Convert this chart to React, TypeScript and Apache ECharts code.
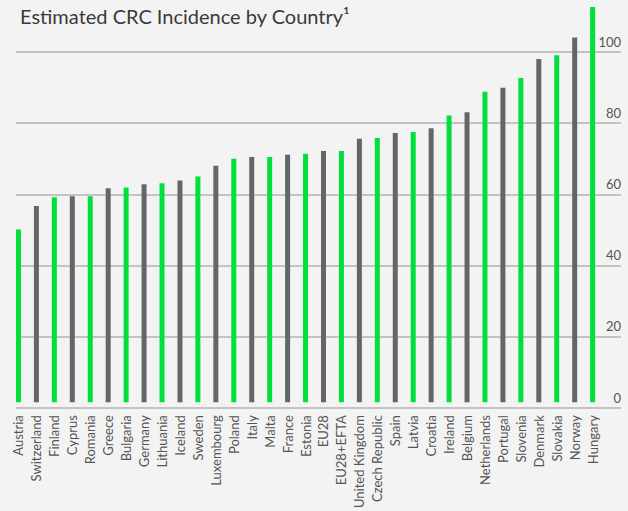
import React, { useEffect, useRef } from "react";
import * as echarts from "echarts";

const countries = [
  "Austria", "Switzerland", "Finland", "Cyprus", "Romania", "Greece", "Bulgaria",
  "Germany", "Lithuania", "Iceland", "Sweden", "Luxembourg", "Poland", "Italy",
  "Malta", "France", "Estonia", "EU28", "EU28+EFTA", "United Kingdom",
  "Czech Republic", "Spain", "Latvia", "Croatia", "Ireland", "Belgium",
  "Netherlands", "Portugal", "Slovenia", "Denmark", "Slovakia", "Norway", "Hungary",
];

const incidence = [
  49.2, 55.9, 58.4, 58.7, 58.7, 61.0, 61.2, 62.1, 62.4, 63.2, 64.3, 67.4, 69.4,
  69.9, 69.9, 70.5, 70.8, 71.6, 71.6, 75.1, 75.3, 76.7, 77.0, 78.1, 81.7, 82.6,
  88.5, 89.6, 92.4, 97.8, 98.9, 103.9, 112.6,
];

const yTicks = [0, 20, 40, 60, 80, 100];

const GREEN = "#00df3c";
const GRAY = "#636669";
const FONT = "Lato";

export default function App() {
  const ref = useRef<HTMLDivElement>(null);
  useEffect(() => {
    document.body.style.margin = "0";
    if (!ref.current) return;
    const chart = echarts.init(ref.current, undefined, { renderer: "svg" });
    const zeroY = 408;
    const pxPerUnit = 3.56;
    const gridBottom = 511 - zeroY;
    const barMax = 114;
    chart.setOption({
      animation: false,
      backgroundColor: "#f3f3f3",
      title: {
        text: "Estimated CRC Incidence by Country¹",
        left: 15,
        top: 1,
        textStyle: {
          fontFamily: FONT,
          fontSize: 20,
          fontWeight: "normal",
          color: "#3a3a3a",
        },
      },
      grid: [
        {
          left: 9.5,
          right: 26.4,
          top: zeroY - barMax * pxPerUnit,
          bottom: gridBottom,
        },
        {
          left: 16,
          right: 7,
          top: zeroY - yTicks[yTicks.length - 1] * pxPerUnit,
          bottom: gridBottom,
        },
      ],
      xAxis: [
        {
          type: "category",
          gridIndex: 0,
          data: countries,
          axisLine: { show: false },
          axisTick: { show: false },
          axisLabel: {
            rotate: 90,
            interval: 0,
            margin: 13,
            fontFamily: FONT,
            fontSize: 13,
            color: "#555555",
          },
        },
        { type: "value", gridIndex: 1, show: false, min: 0, max: 1 },
      ],
      yAxis: [
        {
          type: "value",
          gridIndex: 0,
          min: 0,
          max: barMax,
          show: false,
          splitLine: { show: false },
        },
        {
          type: "value",
          gridIndex: 1,
          min: yTicks[0],
          max: yTicks[yTicks.length - 1],
          interval: 20,
          position: "right",
          axisLine: { show: false },
          axisTick: { show: false },
          splitLine: { show: true, lineStyle: { color: "#b3b3b3", width: 1.5 } },
          axisLabel: {
            inside: true,
            margin: 0,
            align: "right",
            verticalAlign: "bottom",
            padding: [0, 0, 4, 0],
            fontFamily: FONT,
            fontSize: 13,
            color: "#555555",
          },
        },
      ],
      series: [
        {
          type: "bar",
          xAxisIndex: 0,
          yAxisIndex: 0,
          barWidth: 5,
          data: incidence.map((v, i) => ({
            value: v,
            itemStyle: { color: i % 2 === 0 ? GREEN : GRAY },
          })),
        },
      ],
    });
    return () => chart.dispose();
  }, []);
  return <div ref={ref} style={{ width: 628, height: 511 }} />;
}
